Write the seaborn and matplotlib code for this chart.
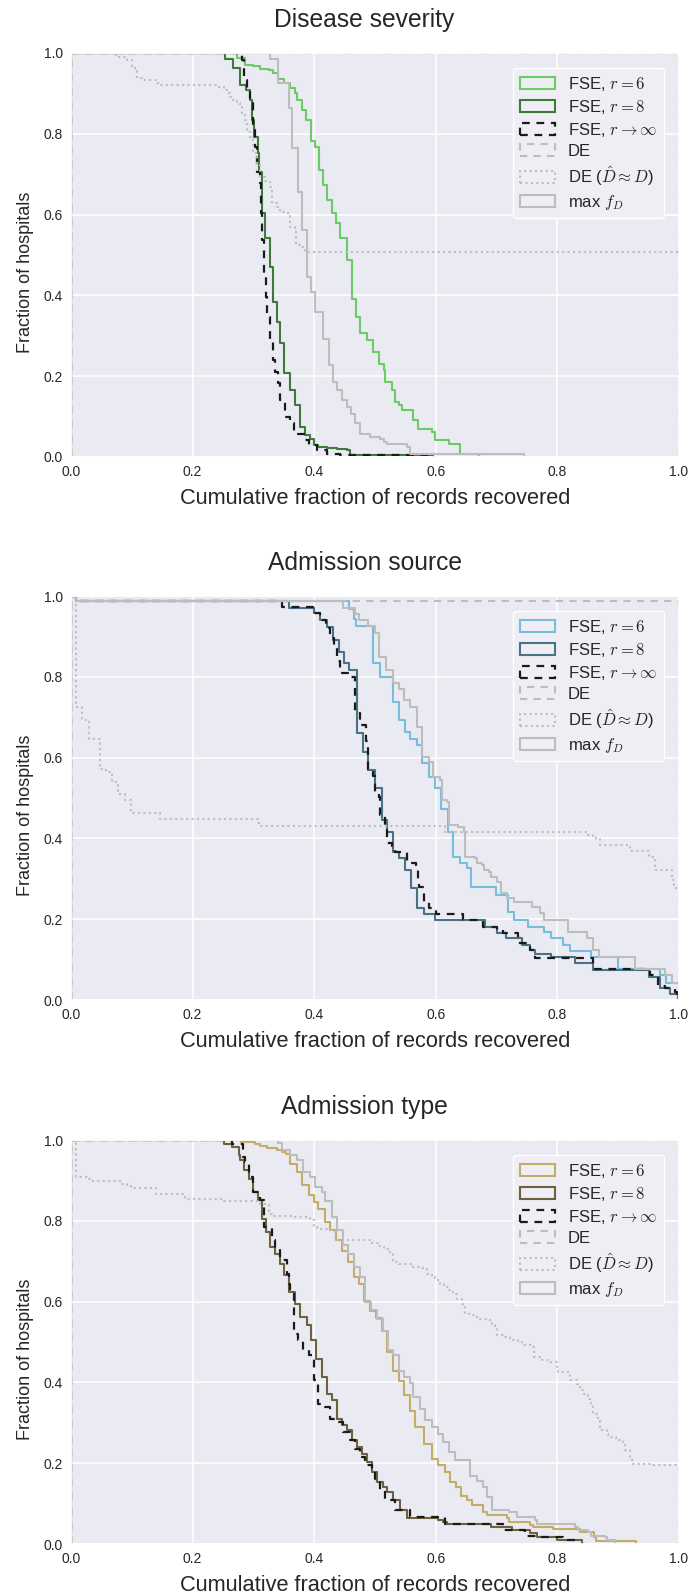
import matplotlib
matplotlib.use("Agg")
import matplotlib.pyplot as plt
import seaborn as sns
from matplotlib.patches import Patch

# ---------------- data (step curves: x where the curve drops, level after the drop) ----------------
titles = ["Disease severity", "Admission source", "Admission type"]
legend_labels = ["FSE, $r=6$", "FSE, $r=8$", r"FSE, $r\to\infty$", "DE",
                 r"DE ($\hat{D}\approx D$)", "max $f_D$"]
tick_vals = [0.0, 0.2, 0.4, 0.6, 0.8, 1.0]

# --- Disease severity ---
sev_fse6_x = [0.273, 0.287, 0.300, 0.311, 0.325, 0.333, 0.341, 0.351, 0.360, 0.369, 0.372, 0.380, 0.387,
              0.394, 0.402, 0.408, 0.415, 0.421, 0.429, 0.436, 0.443, 0.454, 0.462, 0.469, 0.476, 0.487,
              0.497, 0.506, 0.514, 0.517, 0.528, 0.533, 0.540, 0.544, 0.563, 0.571, 0.593, 0.599, 0.621, 0.640]
sev_fse6_y = [0.987, 0.971, 0.967, 0.961, 0.957, 0.950, 0.935, 0.925, 0.913, 0.900, 0.884, 0.859, 0.834,
              0.781, 0.768, 0.710, 0.673, 0.636, 0.603, 0.578, 0.541, 0.487, 0.392, 0.347, 0.306, 0.289,
              0.260, 0.231, 0.215, 0.186, 0.165, 0.136, 0.128, 0.116, 0.091, 0.070, 0.062, 0.041, 0.033, 0.008]
sev_fse6_end = 0.671
sev_fse8_x = [0.254, 0.266, 0.278, 0.288, 0.295, 0.297, 0.301, 0.308, 0.310, 0.314, 0.319, 0.327, 0.333,
              0.339, 0.344, 0.350, 0.360, 0.369, 0.377, 0.385, 0.393, 0.399, 0.407, 0.421, 0.437, 0.454, 0.459]
sev_fse8_y = [0.985, 0.962, 0.921, 0.909, 0.884, 0.834, 0.793, 0.752, 0.706, 0.603, 0.541, 0.471, 0.384,
              0.335, 0.281, 0.207, 0.165, 0.128, 0.074, 0.054, 0.045, 0.029, 0.025, 0.023, 0.021, 0.017, 0.004]
sev_fse8_end = 0.596
sev_inf_x = [0.273, 0.281, 0.284, 0.289, 0.295, 0.300, 0.303, 0.306, 0.311, 0.312, 0.314, 0.317, 0.321,
             0.323, 0.328, 0.333, 0.336, 0.341, 0.344, 0.352, 0.360, 0.366, 0.371, 0.383, 0.391, 0.404,
             0.421, 0.443]
sev_inf_y = [0.995, 0.983, 0.934, 0.909, 0.876, 0.810, 0.768, 0.706, 0.677, 0.603, 0.537, 0.454, 0.396,
             0.347, 0.289, 0.240, 0.211, 0.182, 0.140, 0.099, 0.083, 0.062, 0.058, 0.041, 0.029, 0.017,
             0.008, 0.004]
sev_inf_end = 0.596
sev_de_x = []
sev_de_y = []
sev_de_end = 1.0
sev_ded_x = [0.070, 0.079, 0.092, 0.100, 0.106, 0.109, 0.117, 0.141, 0.147, 0.240, 0.251, 0.256, 0.262,
             0.267, 0.273, 0.278, 0.281, 0.287, 0.289, 0.295, 0.300, 0.306, 0.311, 0.319, 0.328, 0.330,
             0.339, 0.344, 0.350, 0.360, 0.369, 0.370, 0.377, 0.385]
sev_ded_y = [0.995, 0.991, 0.983, 0.967, 0.958, 0.938, 0.933, 0.925, 0.921, 0.917, 0.909, 0.900, 0.892,
             0.884, 0.876, 0.872, 0.851, 0.834, 0.805, 0.793, 0.752, 0.723, 0.694, 0.682, 0.669, 0.628,
             0.620, 0.607, 0.603, 0.570, 0.558, 0.525, 0.520, 0.508]
sev_ded_end = 1.0
sev_max_x = [0.327, 0.340, 0.358, 0.364, 0.373, 0.380, 0.388, 0.394, 0.402, 0.415, 0.424, 0.431, 0.437,
             0.445, 0.454, 0.461, 0.467, 0.476, 0.492, 0.508, 0.514, 0.520, 0.552, 0.558]
sev_max_y = [0.985, 0.925, 0.863, 0.764, 0.657, 0.562, 0.446, 0.409, 0.359, 0.293, 0.227, 0.186, 0.165,
             0.140, 0.124, 0.107, 0.083, 0.058, 0.050, 0.045, 0.037, 0.033, 0.025, 0.008]
sev_max_end = 0.745

# --- Admission source ---
src_fse6_x = [0.008, 0.457, 0.465, 0.469, 0.497, 0.508, 0.529, 0.539, 0.549, 0.558, 0.569, 0.577, 0.588,
              0.599, 0.609, 0.620, 0.629, 0.639, 0.652, 0.658, 0.699, 0.718, 0.729, 0.751, 0.778, 0.790,
              0.810, 0.821, 0.856, 0.900, 0.969, 0.979]
src_fse6_y = [0.987, 0.969, 0.942, 0.925, 0.833, 0.800, 0.738, 0.693, 0.664, 0.647, 0.631, 0.586, 0.553,
              0.524, 0.474, 0.416, 0.355, 0.338, 0.326, 0.280, 0.260, 0.219, 0.198, 0.181, 0.169, 0.153,
              0.136, 0.122, 0.107, 0.076, 0.062, 0.043]
src_fse6_end = 1.0
src_fse8_x = [0.008, 0.359, 0.399, 0.410, 0.421, 0.431, 0.440, 0.449, 0.457, 0.470, 0.481, 0.489, 0.500,
              0.511, 0.519, 0.529, 0.539, 0.549, 0.560, 0.569, 0.580, 0.599, 0.681, 0.700, 0.716, 0.741,
              0.755, 0.763, 0.790, 0.829, 0.859, 0.950, 0.969, 0.985]
src_fse8_y = [0.987, 0.971, 0.957, 0.940, 0.924, 0.892, 0.862, 0.833, 0.816, 0.660, 0.614, 0.569, 0.524,
              0.445, 0.416, 0.367, 0.351, 0.322, 0.276, 0.227, 0.214, 0.198, 0.181, 0.165, 0.153, 0.136,
              0.124, 0.115, 0.107, 0.091, 0.074, 0.058, 0.029, 0.016]
src_fse8_end = 0.999
src_inf_x = [0.008, 0.347, 0.399, 0.409, 0.419, 0.426, 0.432, 0.437, 0.442, 0.455, 0.467, 0.476, 0.485,
             0.489, 0.497, 0.500, 0.506, 0.508, 0.517, 0.520, 0.528, 0.533, 0.552, 0.567, 0.570, 0.573,
             0.580, 0.588, 0.600, 0.645, 0.678, 0.700, 0.711, 0.735, 0.755, 0.763, 0.859, 0.952, 0.966,
             0.977, 0.993, 0.996]
src_inf_y = [0.987, 0.973, 0.957, 0.940, 0.920, 0.895, 0.870, 0.840, 0.810, 0.800, 0.710, 0.680, 0.640,
             0.573, 0.555, 0.511, 0.502, 0.458, 0.430, 0.388, 0.380, 0.367, 0.339, 0.326, 0.300, 0.280,
             0.243, 0.227, 0.214, 0.198, 0.181, 0.173, 0.165, 0.140, 0.124, 0.103, 0.076, 0.062, 0.035,
             0.029, 0.020, 0.008]
src_inf_end = 1.0
src_de_x = [0.008]
src_de_y = [0.987]
src_de_end = 1.0
src_ded_x = [0.008, 0.018, 0.029, 0.048, 0.057, 0.068, 0.078, 0.089, 0.099, 0.147, 0.309, 0.615, 0.848,
             0.859, 0.870, 0.920, 0.950, 0.960, 0.989, 0.991]
src_ded_y = [0.726, 0.693, 0.647, 0.573, 0.565, 0.540, 0.511, 0.495, 0.462, 0.447, 0.4305, 0.415, 0.408,
             0.400, 0.3835, 0.3695, 0.355, 0.322, 0.297, 0.276]
src_ded_end = 1.0
src_max_x = [0.008, 0.448, 0.467, 0.473, 0.489, 0.500, 0.507, 0.518, 0.529, 0.539, 0.548, 0.558, 0.569,
             0.577, 0.588, 0.596, 0.607, 0.610, 0.618, 0.621, 0.637, 0.646, 0.648, 0.664, 0.667, 0.676,
             0.679, 0.687, 0.690, 0.700, 0.708, 0.717, 0.728, 0.758, 0.772, 0.778, 0.818, 0.848, 0.859,
             0.869, 0.927, 0.977, 0.988]
src_max_y = [0.987, 0.971, 0.955, 0.940, 0.925, 0.909, 0.848, 0.818, 0.785, 0.771, 0.742, 0.726, 0.676,
             0.602, 0.590, 0.553, 0.544, 0.495, 0.491, 0.433, 0.429, 0.415, 0.355, 0.351, 0.338, 0.334,
             0.322, 0.318, 0.305, 0.293, 0.264, 0.252, 0.243, 0.231, 0.216, 0.198, 0.169, 0.153, 0.124,
             0.107, 0.076, 0.062, 0.041]
src_max_end = 1.0

# --- Admission type ---
adm_fse6_x = [0.279, 0.303, 0.311, 0.322, 0.339, 0.347, 0.354, 0.360, 0.372, 0.380, 0.391, 0.399, 0.407,
              0.418, 0.426, 0.436, 0.445, 0.455, 0.465, 0.474, 0.482, 0.492, 0.502, 0.511, 0.520, 0.529,
              0.539, 0.547, 0.558, 0.566, 0.580, 0.593, 0.604, 0.615, 0.623, 0.634, 0.642, 0.652, 0.659,
              0.678, 0.684, 0.717, 0.720, 0.755, 0.760, 0.793, 0.837, 0.861, 0.864]
adm_fse6_y = [0.994, 0.990, 0.985, 0.979, 0.975, 0.970, 0.966, 0.941, 0.921, 0.888, 0.863, 0.847, 0.830,
              0.797, 0.776, 0.752, 0.726, 0.697, 0.661, 0.644, 0.601, 0.576, 0.559, 0.528, 0.476, 0.429,
              0.404, 0.368, 0.330, 0.289, 0.248, 0.211, 0.195, 0.178, 0.153, 0.141, 0.120, 0.108, 0.096,
              0.079, 0.071, 0.065, 0.054, 0.046, 0.042, 0.038, 0.030, 0.017, 0.007]
adm_fse6_end = 0.930
adm_fse8_x = [0.251, 0.265, 0.276, 0.278, 0.284, 0.292, 0.300, 0.308, 0.314, 0.321, 0.328, 0.336, 0.344,
              0.351, 0.358, 0.369, 0.377, 0.388, 0.394, 0.403, 0.413, 0.421, 0.429, 0.437, 0.445, 0.454,
              0.462, 0.470, 0.478, 0.487, 0.495, 0.503, 0.513, 0.520, 0.530, 0.541, 0.552, 0.604, 0.612,
              0.618, 0.690, 0.725, 0.755, 0.766, 0.799]
adm_fse8_y = [0.989, 0.983, 0.962, 0.950, 0.925, 0.904, 0.871, 0.851, 0.805, 0.772, 0.735, 0.719, 0.694,
              0.665, 0.624, 0.595, 0.562, 0.541, 0.504, 0.459, 0.413, 0.372, 0.356, 0.310, 0.294, 0.281,
              0.257, 0.240, 0.224, 0.203, 0.178, 0.153, 0.141, 0.129, 0.108, 0.083, 0.065, 0.059, 0.054,
              0.050, 0.042, 0.034, 0.026, 0.017, 0.009]
adm_fse8_end = 0.840
adm_inf_x = [0.265, 0.283, 0.287, 0.292, 0.300, 0.311, 0.317, 0.331, 0.336, 0.344, 0.355, 0.358, 0.361,
             0.366, 0.374, 0.382, 0.391, 0.399, 0.407, 0.418, 0.426, 0.434, 0.448, 0.459, 0.467, 0.476,
             0.484, 0.495, 0.500, 0.508, 0.517, 0.533, 0.558, 0.615, 0.711, 0.747, 0.769, 0.810]
adm_inf_y = [0.990, 0.958, 0.946, 0.908, 0.871, 0.851, 0.785, 0.752, 0.731, 0.702, 0.669, 0.644, 0.620,
             0.521, 0.504, 0.479, 0.467, 0.405, 0.347, 0.339, 0.310, 0.302, 0.277, 0.257, 0.236, 0.215,
             0.195, 0.178, 0.162, 0.133, 0.108, 0.083, 0.067, 0.050, 0.035, 0.021, 0.017, 0.009]
adm_inf_end = 0.830
adm_de_x = []
adm_de_y = []
adm_de_end = 1.0
adm_ded_x = [0.008, 0.026, 0.032, 0.081, 0.092, 0.098, 0.139, 0.188, 0.251, 0.311, 0.319, 0.325, 0.331,
             0.366, 0.393, 0.399, 0.404, 0.426, 0.435, 0.495, 0.506, 0.515, 0.524, 0.530, 0.539, 0.560,
             0.577, 0.585, 0.593, 0.599, 0.607, 0.613, 0.621, 0.629, 0.635, 0.643, 0.648, 0.656, 0.667,
             0.684, 0.692, 0.697, 0.700, 0.711, 0.722, 0.736, 0.741, 0.758, 0.761, 0.774, 0.788, 0.799,
             0.801, 0.818, 0.821, 0.832, 0.837, 0.843, 0.851, 0.856, 0.859, 0.867, 0.870, 0.881, 0.884,
             0.897, 0.908, 0.911, 0.919, 0.922, 0.958, 0.996]
adm_ded_y = [0.908, 0.904, 0.898, 0.892, 0.888, 0.880, 0.866, 0.855, 0.849, 0.842, 0.838, 0.818, 0.813,
             0.809, 0.801, 0.784, 0.780, 0.776, 0.753, 0.745, 0.737, 0.729, 0.717, 0.698, 0.694, 0.686,
             0.682, 0.669, 0.661, 0.653, 0.644, 0.636, 0.628, 0.620, 0.607, 0.595, 0.570, 0.566, 0.558,
             0.554, 0.541, 0.533, 0.517, 0.512, 0.504, 0.500, 0.492, 0.488, 0.463, 0.455, 0.450, 0.438,
             0.426, 0.422, 0.405, 0.397, 0.380, 0.372, 0.360, 0.343, 0.323, 0.306, 0.281, 0.273, 0.265,
             0.257, 0.244, 0.232, 0.215, 0.199, 0.195, 0.191]
adm_ded_end = 1.0
adm_max_x = [0.341, 0.347, 0.360, 0.372, 0.382, 0.393, 0.402, 0.413, 0.418, 0.429, 0.437, 0.447, 0.456,
             0.466, 0.475, 0.484, 0.494, 0.503, 0.513, 0.522, 0.530, 0.539, 0.547, 0.557, 0.563, 0.574,
             0.582, 0.593, 0.604, 0.612, 0.622, 0.632, 0.656, 0.667, 0.678, 0.684, 0.692, 0.720, 0.733,
             0.763, 0.766, 0.829, 0.834, 0.851, 0.856, 0.878, 0.881]
adm_max_y = [0.993, 0.975, 0.962, 0.950, 0.921, 0.908, 0.883, 0.872, 0.850, 0.810, 0.777, 0.741, 0.719,
             0.686, 0.661, 0.600, 0.578, 0.556, 0.527, 0.479, 0.467, 0.427, 0.413, 0.398, 0.363, 0.335,
             0.308, 0.290, 0.273, 0.252, 0.228, 0.207, 0.169, 0.157, 0.141, 0.116, 0.085, 0.079, 0.067,
             0.059, 0.050, 0.042, 0.034, 0.030, 0.021, 0.017, 0.009]
adm_max_end = 0.895

# ---------------- styling ----------------
light_colors = ["#6ACC65", "#77BEDB", "#C4AD66"]
dark_colors = ["#3F7A3C", "#4A7186", "#6E6140"]
grey = "#bdbdbd"

sns.set_theme(style="darkgrid")
plt.rcParams["font.family"] = ["Liberation Sans", "DejaVu Sans"]
plt.rcParams["mathtext.fontset"] = "cm"


def steps(xs, ys, end):
    X = [0.0, 0.0] + list(xs) + [end]
    Y = [0.0, 1.0] + list(ys) + [0.0]
    return X, Y


panel_data = [
    [(sev_fse6_x, sev_fse6_y, sev_fse6_end), (sev_fse8_x, sev_fse8_y, sev_fse8_end),
     (sev_inf_x, sev_inf_y, sev_inf_end), (sev_de_x, sev_de_y, sev_de_end),
     (sev_ded_x, sev_ded_y, sev_ded_end), (sev_max_x, sev_max_y, sev_max_end)],
    [(src_fse6_x, src_fse6_y, src_fse6_end), (src_fse8_x, src_fse8_y, src_fse8_end),
     (src_inf_x, src_inf_y, src_inf_end), (src_de_x, src_de_y, src_de_end),
     (src_ded_x, src_ded_y, src_ded_end), (src_max_x, src_max_y, src_max_end)],
    [(adm_fse6_x, adm_fse6_y, adm_fse6_end), (adm_fse8_x, adm_fse8_y, adm_fse8_end),
     (adm_inf_x, adm_inf_y, adm_inf_end), (adm_de_x, adm_de_y, adm_de_end),
     (adm_ded_x, adm_ded_y, adm_ded_end), (adm_max_x, adm_max_y, adm_max_end)],
]

W, H = 692, 1595
fig = plt.figure(figsize=(W / 100, H / 100), dpi=100)
ax_left, ax_right = 71, 679
ax_tops = [53, 596, 1140]
ax_h = 404

for i, (title, light, dark) in enumerate(zip(titles, light_colors, dark_colors)):
    top = ax_tops[i]
    ax = fig.add_axes([ax_left / W, 1 - (top + ax_h) / H, (ax_right - ax_left) / W, ax_h / H])
    styles = [
        dict(color=light, ls="-", lw=1.5),
        dict(color=dark, ls="-", lw=1.5),
        dict(color="#1a1a1a", ls=(0, (3.5, 3.0)), lw=1.6),
        dict(color=grey, ls=(0, (3.5, 3.0)), lw=1.5),
        dict(color=grey, ls=(0, (1.0, 1.6)), lw=1.5),
        dict(color=grey, ls="-", lw=1.5),
    ]
    handles = []
    for (xs, ys, end), st, lab in zip(panel_data[i], styles, legend_labels):
        X, Y = steps(xs, ys, end)
        sns.lineplot(x=X, y=Y, estimator=None, sort=False, drawstyle="steps-post",
                     color=st["color"], linestyle=st["ls"], linewidth=st["lw"], ax=ax, legend=False)
        handles.append(Patch(facecolor="none", edgecolor=st["color"], linestyle=st["ls"],
                             linewidth=st["lw"], label=lab))
    ax.set_xlim(0, 1)
    ax.set_ylim(0, 1)
    ax.set_xticks(tick_vals)
    ax.set_yticks(tick_vals)
    ax.set_xticklabels([f"{v:.1f}" for v in tick_vals])
    ax.set_yticklabels([f"{v:.1f}" for v in tick_vals])
    ax.tick_params(axis="both", labelsize=10, pad=6, length=0)
    ax.set_title(title, fontsize=17.7, pad=19, x=0.483)
    ax.set_xlabel("Cumulative fraction of records recovered", fontsize=15.7, labelpad=6)
    ax.set_ylabel("Fraction of hospitals", fontsize=13)
    ax.yaxis.set_label_coords(-0.061, 0.457)
    ax.grid(True, color="white", lw=1.1)
    leg = ax.legend(handles=handles, loc="upper right", fontsize=12, frameon=True,
                    facecolor="#eeeef4", edgecolor="white", framealpha=1.0,
                    handlelength=2.1, handleheight=0.72, borderaxespad=0.9, labelspacing=0.3,
                    handletextpad=0.8)
    leg.get_frame().set_linewidth(1.0)

fig.savefig("out.png", dpi=100)
